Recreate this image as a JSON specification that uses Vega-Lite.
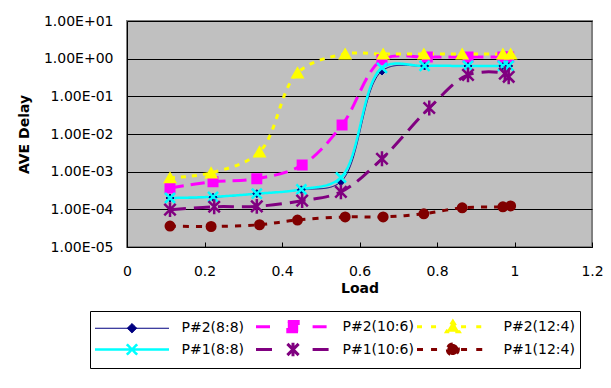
{
  "$schema": "https://vega.github.io/schema/vega-lite/v6.json",
  "width": 465,
  "height": 226,
  "autosize": "none",
  "padding": {"left": 127, "top": 21, "right": 19, "bottom": 141},
  "background": "white",
  "config": {
    "view": {"fill": "#C0C0C0", "stroke": "#808080", "strokeWidth": 2},
    "font": "DejaVu Sans",
    "axis": {
      "labelFont": "DejaVu Sans", "labelFontSize": 14, "labelColor": "black",
      "titleFont": "DejaVu Sans", "titleFontSize": 14, "titleFontWeight": "bold", "titleColor": "black",
      "domainColor": "black", "domainWidth": 1, "tickColor": "black"
    }
  },
  "data": {"values": [
    {"series": "P#2(8:8)", "load": 0.111, "delay": 0.0002},
    {"series": "P#2(8:8)", "load": 0.222, "delay": 0.00021},
    {"series": "P#2(8:8)", "load": 0.335, "delay": 0.00026},
    {"series": "P#2(8:8)", "load": 0.45, "delay": 0.00033},
    {"series": "P#2(8:8)", "load": 0.552, "delay": 0.00054},
    {"series": "P#2(8:8)", "load": 0.658, "delay": 0.47},
    {"series": "P#2(8:8)", "load": 0.768, "delay": 0.64},
    {"series": "P#2(8:8)", "load": 0.88, "delay": 0.64},
    {"series": "P#2(8:8)", "load": 0.97, "delay": 0.64},
    {"series": "P#2(8:8)", "load": 0.985, "delay": 0.64},
    {"series": "P#2(10:6)", "load": 0.111, "delay": 0.00037},
    {"series": "P#2(10:6)", "load": 0.222, "delay": 0.00054},
    {"series": "P#2(10:6)", "load": 0.335, "delay": 0.00065},
    {"series": "P#2(10:6)", "load": 0.452, "delay": 0.0015},
    {"series": "P#2(10:6)", "load": 0.555, "delay": 0.0174},
    {"series": "P#2(10:6)", "load": 0.658, "delay": 0.93},
    {"series": "P#2(10:6)", "load": 0.775, "delay": 1.1},
    {"series": "P#2(10:6)", "load": 0.88, "delay": 1.1},
    {"series": "P#2(10:6)", "load": 0.97, "delay": 1.1},
    {"series": "P#2(10:6)", "load": 0.985, "delay": 1.1},
    {"series": "P#2(12:4)", "load": 0.111, "delay": 0.00069},
    {"series": "P#2(12:4)", "load": 0.217, "delay": 0.00093},
    {"series": "P#2(12:4)", "load": 0.342, "delay": 0.00335},
    {"series": "P#2(12:4)", "load": 0.44, "delay": 0.42},
    {"series": "P#2(12:4)", "load": 0.563, "delay": 1.33},
    {"series": "P#2(12:4)", "load": 0.661, "delay": 1.33},
    {"series": "P#2(12:4)", "load": 0.766, "delay": 1.33},
    {"series": "P#2(12:4)", "load": 0.865, "delay": 1.33},
    {"series": "P#2(12:4)", "load": 0.97, "delay": 1.33},
    {"series": "P#2(12:4)", "load": 0.99, "delay": 1.33},
    {"series": "P#1(8:8)", "load": 0.111, "delay": 0.0002},
    {"series": "P#1(8:8)", "load": 0.222, "delay": 0.000215},
    {"series": "P#1(8:8)", "load": 0.335, "delay": 0.00026},
    {"series": "P#1(8:8)", "load": 0.45, "delay": 0.00034},
    {"series": "P#1(8:8)", "load": 0.552, "delay": 0.0007},
    {"series": "P#1(8:8)", "load": 0.658, "delay": 0.57},
    {"series": "P#1(8:8)", "load": 0.768, "delay": 0.64},
    {"series": "P#1(8:8)", "load": 0.88, "delay": 0.64},
    {"series": "P#1(8:8)", "load": 0.97, "delay": 0.64},
    {"series": "P#1(8:8)", "load": 0.985, "delay": 0.64},
    {"series": "P#1(10:6)", "load": 0.111, "delay": 0.000098},
    {"series": "P#1(10:6)", "load": 0.225, "delay": 0.000117},
    {"series": "P#1(10:6)", "load": 0.335, "delay": 0.00012},
    {"series": "P#1(10:6)", "load": 0.452, "delay": 0.00017},
    {"series": "P#1(10:6)", "load": 0.552, "delay": 0.00029},
    {"series": "P#1(10:6)", "load": 0.658, "delay": 0.0022},
    {"series": "P#1(10:6)", "load": 0.78, "delay": 0.049},
    {"series": "P#1(10:6)", "load": 0.88, "delay": 0.37},
    {"series": "P#1(10:6)", "load": 0.975, "delay": 0.4},
    {"series": "P#1(10:6)", "load": 0.985, "delay": 0.33},
    {"series": "P#1(12:4)", "load": 0.111, "delay": 0.000036},
    {"series": "P#1(12:4)", "load": 0.217, "delay": 0.000035},
    {"series": "P#1(12:4)", "load": 0.342, "delay": 0.000039},
    {"series": "P#1(12:4)", "load": 0.44, "delay": 0.000052},
    {"series": "P#1(12:4)", "load": 0.563, "delay": 0.000063},
    {"series": "P#1(12:4)", "load": 0.661, "delay": 0.000063},
    {"series": "P#1(12:4)", "load": 0.766, "delay": 0.000076},
    {"series": "P#1(12:4)", "load": 0.865, "delay": 0.00011},
    {"series": "P#1(12:4)", "load": 0.97, "delay": 0.000117},
    {"series": "P#1(12:4)", "load": 0.99, "delay": 0.000123}
  ]},
  "layer": [
    {
      "mark": {"type": "line", "interpolate": "catmull-rom"},
      "encoding": {
        "x": {"field": "load", "type": "quantitative",
          "scale": {"domain": [0, 1.2], "nice": false, "zero": false},
          "axis": {"title": "Load", "values": [0, 0.2, 0.4, 0.6, 0.8, 1, 1.2], "format": "~g", "grid": false,
            "tickSize": -5, "labelPadding": 22, "titlePadding": 3, "labelFlush": false}},
        "y": {"field": "delay", "type": "quantitative",
          "scale": {"type": "log", "domain": [0.00001, 10], "nice": false},
          "axis": {"title": "AVE Delay", "values": [0.00001, 0.0001, 0.001, 0.01, 0.1, 1, 10],
            "labelExpr": "'1.00E' + (round(log(datum.value)/LN10) < 0 ? '-0' : '+0') + abs(round(log(datum.value)/LN10))",
            "grid": true, "gridColor": "black", "gridWidth": 1, "gridOpacity": 1, "ticks": false,
            "labelPadding": 14, "titlePadding": 12, "labelFlush": false}},
        "color": {"field": "series", "type": "nominal",
          "scale": {"domain": ["P#2(8:8)", "P#2(10:6)", "P#2(12:4)", "P#1(8:8)", "P#1(10:6)", "P#1(12:4)"],
            "range": ["#000080", "#FF00FF", "#FFFF00", "#00FFFF", "#800080", "#800000"]},
          "legend": {
            "title": null, "orient": "none", "legendX": -37, "legendY": 290, "direction": "horizontal",
            "columns": 3, "gridAlign": "all", "columnPadding": -3, "rowPadding": -3,
            "symbolSize": 256, "symbolStrokeWidth": 3, "symbolOffset": 27.5, "labelOffset": 40, "symbolOpacity": 1,
            "symbolDash": [1, 0],
            "symbolType": {"expr": "datum.value==='P#2(8:8)' ? 'M-4.625,0H4.625M0,-0.6L0.6,0L0,0.6L-0.6,0Z' : datum.value==='P#2(10:6)' ? 'M-4.625,0H-2.54M2.45,0H4.625M-0.65,-0.65H0.65V0.65H-0.65Z' : datum.value==='P#2(12:4)' ? 'M-4.625,0H-3.7M-2.87,0H-2.08M0.88,0H1.67M2.78,0H3.79M-0.14,-0.69L0.65,0.6L-0.93,0.6Z' : datum.value==='P#1(8:8)' ? 'M-4.625,0H4.625M-0.65,-0.65L0.65,0.65M0.65,-0.65L-0.65,0.65' : datum.value==='P#1(10:6)' ? 'M-4.625,0H-2.54M2.45,0H4.625M-0.7,-0.7L0.7,0.7M0.7,-0.7L-0.7,0.7M0,-0.83V0.83' : 'M-4.625,0H-3.7M-2.87,0H-2.08M0.88,0H1.67M2.78,0H3.79M-0.83,0A0.69,0.69,0,1,0,0.55,0A0.69,0.69,0,1,0,-0.83,0Z'"},
            "symbolFillColor": {"expr": "datum.value==='P#2(8:8)' ? '#000080' : datum.value==='P#2(10:6)' ? '#FF00FF' : datum.value==='P#2(12:4)' ? '#FFFF00' : datum.value==='P#1(8:8)' ? '#00FFFF' : datum.value==='P#1(10:6)' ? '#800080' : '#800000'"},
            "labelFont": "DejaVu Sans", "labelFontSize": 14, "labelColor": "black", "labelLimit": 0,
            "padding": 5, "strokeColor": "black", "fillColor": "white"
          }},
        "strokeWidth": {"field": "series", "type": "nominal",
          "scale": {"type": "ordinal", "domain": ["P#2(8:8)", "P#2(10:6)", "P#2(12:4)", "P#1(8:8)", "P#1(10:6)", "P#1(12:4)"],
            "range": [1, 3, 3, 2.5, 3, 3]},
          "legend": null},
        "strokeDash": {"field": "series", "type": "nominal",
          "scale": {"domain": ["P#2(8:8)", "P#2(10:6)", "P#2(12:4)", "P#1(8:8)", "P#1(10:6)", "P#1(12:4)"],
            "range": [[1, 0], [14, 7], [5, 6], [1, 0], [16, 8], [6, 7]]},
          "legend": null}
      }
    },
    {"transform": [{"filter": "datum.series === 'P#2(8:8)'"}],
     "mark": {"type": "point", "shape": "diamond", "size": 64, "filled": true, "color": "#000080", "stroke": "#000080", "strokeWidth": 1, "opacity": 1},
     "encoding": {"x": {"field": "load", "type": "quantitative"}, "y": {"field": "delay", "type": "quantitative"}}},
    {"transform": [{"filter": "datum.series === 'P#2(10:6)'"}],
     "mark": {"type": "point", "shape": "square", "size": 81, "filled": true, "color": "#FF00FF", "stroke": "#FF00FF", "strokeWidth": 2, "opacity": 1},
     "encoding": {"x": {"field": "load", "type": "quantitative"}, "y": {"field": "delay", "type": "quantitative"}}},
    {"transform": [{"filter": "datum.series === 'P#2(12:4)'"}],
     "mark": {"type": "point", "shape": "triangle-up", "size": 110, "filled": true, "color": "#FFFF00", "stroke": "#FFFF00", "strokeWidth": 2, "opacity": 1},
     "encoding": {"x": {"field": "load", "type": "quantitative"}, "y": {"field": "delay", "type": "quantitative"}}},
    {"transform": [{"filter": "datum.series === 'P#1(8:8)'"}],
     "mark": {"type": "point", "shape": "M-1,-1L1,1M1,-1L-1,1", "size": 100, "filled": true, "color": "#00FFFF", "stroke": "#00FFFF", "strokeWidth": 2.5, "opacity": 1},
     "encoding": {"x": {"field": "load", "type": "quantitative"}, "y": {"field": "delay", "type": "quantitative"}}},
    {"transform": [{"filter": "datum.series === 'P#1(10:6)'"}],
     "mark": {"type": "point", "shape": "M-1,-1L1,1M1,-1L-1,1M0,-1.3V1.3", "size": 130, "filled": true, "color": "#800080", "stroke": "#800080", "strokeWidth": 2.5, "opacity": 1},
     "encoding": {"x": {"field": "load", "type": "quantitative"}, "y": {"field": "delay", "type": "quantitative"}}},
    {"transform": [{"filter": "datum.series === 'P#1(12:4)'"}],
     "mark": {"type": "point", "shape": "circle", "size": 81, "filled": true, "color": "#800000", "stroke": "#800000", "strokeWidth": 2, "opacity": 1},
     "encoding": {"x": {"field": "load", "type": "quantitative"}, "y": {"field": "delay", "type": "quantitative"}}}
  ]
}
